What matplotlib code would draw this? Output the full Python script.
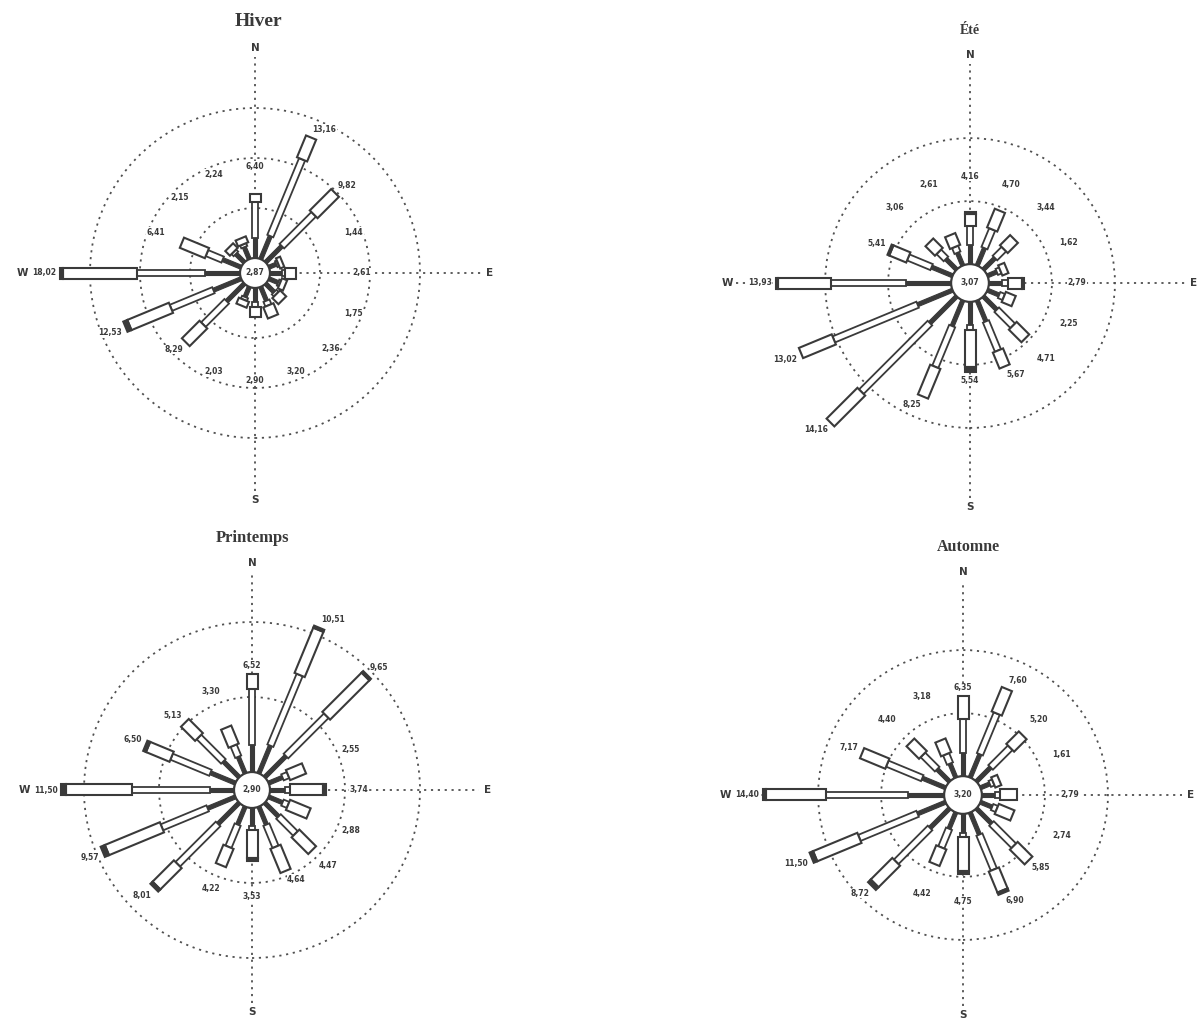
import numpy as np
import matplotlib
matplotlib.use("Agg")
import matplotlib.pyplot as plt
from matplotlib.patches import Polygon, Circle

W_PX, H_PX = 1201, 1028

directions = ["N", "NNE", "NE", "ENE", "E", "ESE", "SE", "SSE",
              "S", "SSW", "SW", "WSW", "W", "WNW", "NW", "NNW"]
bearings = np.arange(16) * 22.5

# ---------------- Hiver ----------------
hiver_total = [6.40, 13.16, 9.82, 1.44, 2.61, 1.75, 2.36, 3.20,
               2.90, 2.03, 8.29, 12.53, 18.02, 6.41, 2.15, 2.24]
hiver_c1 = [2.0, 2.5, 2.3, 0.8, 1.2, 1.0, 1.2, 1.5,
            1.4, 1.1, 2.5, 3.0, 3.5, 2.0, 1.2, 1.3]
hiver_c2 = [3.6, 8.3, 4.5, 0.2, 0.3, 0.2, 0.3, 0.5,
            0.5, 0.3, 3.3, 4.6, 6.8, 1.7, 0.3, 0.3]
hiver_c4 = [0, 0, 0, 0, 0, 0, 0, 0,
            0, 0, 0, 0.43, 0.3, 0, 0, 0]
hiver_calm = 2.87

# ---------------- Été ----------------
ete_total = [4.16, 4.70, 3.44, 1.62, 2.79, 2.25, 4.71, 5.67,
             5.54, 8.25, 14.16, 13.02, 13.93, 5.41, 3.06, 2.61]
ete_c1 = [1.5, 1.5, 1.3, 0.8, 1.0, 1.0, 1.5, 1.8,
          1.8, 2.2, 3.0, 3.0, 3.6, 1.8, 1.2, 1.1]
ete_c2 = [1.5, 1.6, 1.0, 0.3, 0.5, 0.4, 1.8, 2.5,
          0.4, 3.5, 7.7, 7.2, 5.9, 2.0, 0.8, 0.5]
ete_c4 = [0.15, 0, 0, 0, 0.15, 0, 0, 0,
          0.34, 0, 0, 0, 0.23, 0.15, 0, 0]
ete_calm = 3.07

# ---------------- Printemps ----------------
printemps_total = [6.52, 10.51, 9.65, 2.55, 3.74, 2.88, 4.47, 4.64,
                   3.53, 4.22, 8.01, 9.57, 11.50, 6.50, 5.13, 3.30]
printemps_c1 = [1.8, 2.0, 2.0, 1.0, 1.0, 1.0, 1.3, 1.3,
                1.2, 1.3, 2.0, 2.0, 1.6, 1.8, 1.5, 1.2]
printemps_c2 = [3.7, 5.1, 3.8, 0.4, 0.3, 0.4, 1.6, 1.6,
                0.3, 1.6, 3.8, 3.3, 5.2, 2.8, 2.3, 0.8]
printemps_c4 = [0, 0.15, 0.15, 0, 0.2, 0, 0, 0,
                0.2, 0, 0.2, 0.3, 0.3, 0.2, 0, 0]
printemps_calm = 2.90

# ---------------- Automne ----------------
automne_total = [6.35, 7.60, 5.20, 1.61, 2.79, 2.74, 5.85, 6.90,
                 4.75, 4.42, 8.72, 11.50, 14.40, 7.17, 4.40, 3.18]
automne_c1 = [1.8, 2.0, 1.6, 0.8, 1.0, 1.0, 1.7, 1.9,
              1.5, 1.4, 2.2, 2.4, 2.9, 2.0, 1.4, 1.2]
automne_c2 = [2.7, 3.5, 2.2, 0.3, 0.4, 0.4, 2.5, 3.0,
              0.3, 1.6, 3.8, 5.0, 6.5, 3.0, 1.6, 0.8]
automne_c4 = [0, 0, 0, 0, 0, 0, 0, 0.2,
              0.2, 0, 0.3, 0.3, 0.3, 0, 0, 0]
automne_calm = 3.20

# letter distances (px) for N, E, S, W
seasons = [
    dict(title="Hiver", total=hiver_total, c1=hiver_c1, c2=hiver_c2, c4=hiver_c4,
         calm=hiver_calm, center=(255, 273), scale=10.0, r0=1.5, rings=[5, 10, 15],
         letters=(225, 235, 227, 225), title_xy=(258, 22), title_size=14),
    dict(title="Été", total=ete_total, c1=ete_c1, c2=ete_c2, c4=ete_c4,
         calm=ete_calm, center=(970, 283), scale=12.6, r0=1.5, rings=[5, 10],
         letters=(228, 224, 224, 243), title_xy=(970, 30), title_size=10),
    dict(title="Printemps", total=printemps_total, c1=printemps_c1, c2=printemps_c2,
         c4=printemps_c4, calm=printemps_calm, center=(252, 790), scale=15.0, r0=1.2,
         rings=[5, 10], letters=(227, 236, 222, 227), title_xy=(253, 538),
         title_size=12),
    dict(title="Automne", total=automne_total, c1=automne_c1, c2=automne_c2,
         c4=automne_c4, calm=automne_calm, center=(963, 795), scale=12.6, r0=1.5,
         rings=[5, 10], letters=(223, 228, 220, 238), title_xy=(968, 547),
         title_size=11.5),
]

INK = "#3a3a3a"
LINE = "#505050"
DOT = (0, (1.2, 2.6))

fig = plt.figure(figsize=(W_PX / 100, H_PX / 100), dpi=100)
fig.patch.set_facecolor("white")


def fmt(v):
    return f"{v:.2f}".replace(".", ",")


def seg(ax, theta, ra, rb, w, fc, ec, lw, z):
    if rb <= ra:
        return
    u = np.array([np.sin(theta), np.cos(theta)])
    p = np.array([np.cos(theta), -np.sin(theta)])
    a, b = ra * u, rb * u
    pts = [a + p * w / 2, b + p * w / 2, b - p * w / 2, a - p * w / 2]
    ax.add_patch(Polygon(pts, closed=True, facecolor=fc, edgecolor=ec,
                         linewidth=lw, zorder=z, joinstyle="miter"))


HALF = 262
for s in seasons:
    cx, cy = s["center"]
    sc = s["scale"]
    ax = fig.add_axes([(cx - HALF) / W_PX, 1 - (cy + HALF) / H_PX,
                       2 * HALF / W_PX, 2 * HALF / H_PX])
    lim = HALF / sc
    ax.set_xlim(-lim, lim)
    ax.set_ylim(-lim, lim)
    ax.axis("off")
    r0 = s["r0"]
    px = 1.0 / sc  # one pixel in data units

    total = np.array(s["total"])
    c1 = np.array(s["c1"])
    c2 = np.array(s["c2"])
    c4 = np.array(s["c4"])
    c3 = total - c1 - c2 - c4

    # rings
    for rv in s["rings"]:
        ax.add_patch(Circle((0, 0), r0 + rv, fill=False, edgecolor=LINE,
                            linewidth=1.3, linestyle=DOT, zorder=1))

    # cardinal letters; W pushed left of the W value label
    nR, eR, sR, wR = s["letters"]
    w_end_px = (r0 + total[12]) * sc
    wR = max(wR, w_end_px + 4 + 24 + 9)
    nR, eR, sR, wR = nR * px, eR * px, sR * px, wR * px
    ax.plot([0, 0], [-(sR - 9 * px), nR - 9 * px], color=LINE, lw=1.3,
            linestyle=DOT, zorder=1)
    ax.plot([-(wR - 9 * px), eR - 9 * px], [0, 0], color=LINE, lw=1.3,
            linestyle=DOT, zorder=1)
    for lab, (x, y) in zip(["N", "E", "S", "W"],
                           [(0, nR), (eR, 0), (0, -sR), (-wR, 0)]):
        ax.text(x, y, lab, ha="center", va="center", fontsize=7.5,
                fontweight="bold", color=INK, zorder=6, clip_on=False)

    w1, w2, w3 = 4 * px, 6.5 * px, 11 * px
    for i, b in enumerate(bearings):
        th = np.deg2rad(b)
        r1 = r0 + c1[i]
        r2 = r1 + c2[i]
        r3 = r2 + c3[i]
        r4 = r3 + c4[i]
        seg(ax, th, 0, r1, w1, INK, INK, 0.8, 3)
        seg(ax, th, r1, r2, w2, "white", INK, 1.3, 3)
        seg(ax, th, r2, r3, w3, "white", INK, 1.5, 3)
        seg(ax, th, r3, r4, w3, INK, INK, 1.5, 3)

        # value label
        base = 107 * px
        end = r4
        u = np.array([np.sin(th), np.cos(th)])
        if end + 20 * px < base:
            x, y = base * u
            ax.text(x, y, fmt(total[i]), ha="center", va="center", fontsize=5.5,
                    fontweight="bold", color=INK, zorder=6, clip_on=False,
                    bbox=dict(facecolor="white", edgecolor="none", pad=0.3))
        else:
            x, y = (end + 4 * px) * u
            sx, cyv = u
            ha = "left" if sx > 0.3 else ("right" if sx < -0.3 else "center")
            va = "bottom" if cyv > 0.3 else ("top" if cyv < -0.3 else "center")
            ax.text(x, y, fmt(total[i]), ha=ha, va=va, fontsize=5.5,
                    fontweight="bold", color=INK, zorder=6, clip_on=False,
                    bbox=dict(facecolor="white", edgecolor="none", pad=0.3))

    # calm circle
    ax.add_patch(Circle((0, 0), max(r0, 15 * px), facecolor="white", edgecolor=INK,
                        linewidth=1.6, zorder=5))
    ax.text(0, 0, fmt(s["calm"]), ha="center", va="center", fontsize=5.5,
            fontweight="bold", color=INK, zorder=6)

    tx, ty = s["title_xy"]
    fig.text(tx / W_PX, 1 - ty / H_PX, s["title"], ha="center", va="center",
             fontsize=s["title_size"], fontweight="bold", color=INK,
             family="Liberation Serif")

fig.savefig("out.png", dpi=100, facecolor="white")
